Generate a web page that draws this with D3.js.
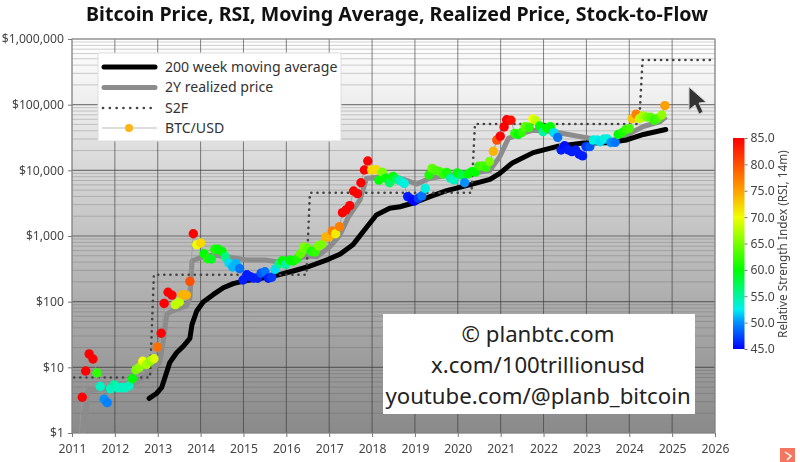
<!DOCTYPE html>
<html>
<head>
<meta charset="utf-8">
<script src="https://cdn.jsdelivr.net/npm/d3@7"></script>
<style>
  html, body { margin: 0; padding: 0; background: #fff; overflow: hidden; }
  svg { display: block; font-family: "Noto Sans", sans-serif; filter: blur(0.5px); }
</style>
</head>
<body>
<svg id="chart" width="800" height="462"></svg>
<script>
// BTC/USD monthly closes, decimal years
var btcDates = [2011.16,2011.24,2011.32,2011.40,2011.49,2011.58,2011.66,2011.75,2011.82,2011.90,2011.99,
  2012.07,2012.16,2012.24,2012.33,2012.41,2012.49,2012.57,2012.65,2012.74,2012.82,2012.91,2012.99,
  2013.08,2013.15,2013.24,2013.33,2013.41,2013.50,2013.58,2013.67,2013.75,2013.83,2013.91,2014.00,
  2014.08,2014.16,2014.25,2014.33,2014.41,2014.50,2014.58,2014.66,2014.75,2014.83,2014.91,2014.99,
  2015.08,2015.16,2015.24,2015.33,2015.41,2015.50,2015.58,2015.66,2015.74,2015.83,2015.91,2015.99,
  2016.08,2016.16,2016.25,2016.33,2016.41,2016.50,2016.58,2016.67,2016.75,2016.83,2016.92,2016.99,
  2017.07,2017.15,2017.24,2017.31,2017.39,2017.48,2017.57,2017.66,2017.74,2017.82,2017.90,2017.99,
  2018.09,2018.16,2018.24,2018.32,2018.41,2018.49,2018.57,2018.66,2018.75,2018.83,2018.92,2018.98,
  2019.08,2019.16,2019.24,2019.33,2019.40,2019.49,2019.58,2019.66,2019.74,2019.83,2019.91,2019.99,
  2020.08,2020.16,2020.24,2020.33,2020.41,2020.49,2020.58,2020.66,2020.74,2020.83,2020.91,2020.99,
  2021.08,2021.14,2021.24,2021.33,2021.41,2021.49,2021.57,2021.66,2021.75,2021.82,2021.91,2021.99,
  2022.07,2022.16,2022.24,2022.33,2022.41,2022.49,2022.58,2022.66,2022.75,2022.83,2022.91,2022.99,
  2023.08,2023.16,2023.25,2023.32,2023.41,2023.49,2023.57,2023.67,2023.74,2023.84,2023.92,2024.00,
  2024.07,2024.16,2024.24,2024.32,2024.41,2024.50,2024.58,2024.66,2024.76,2024.83];
var btcPrice = [0.8,3.5,8.8,16,13.4,8.2,5.1,3.26,2.9,4.7,5.4,
  4.9,4.9,4.9,5.2,6.7,9.2,10,12.4,11.1,12.5,13.5,20.4,
  33,94,139,126,90,99,128,126,204,1084,737,781,
  537,451,446,627,632,584,479,388,337,378,318,214,
  257,240,229,227,271,286,227,235,311,378,421,370,
  427,417,451,537,680,650,584,570,708,745,966,966,
  1190,1084,1387,2265,2489,2900,4840,4416,6460,10100,13870,10100,
  10230,7070,9340,7580,6460,8040,7330,6900,6340,3980,3650,3400,
  3750,4090,5320,8510,10700,10000,9500,8800,9300,7600,7160,9150,
  8500,6480,8800,9550,9400,11600,11700,11100,13650,19500,28900,33100,
  45800,58800,57800,36500,35100,37600,46200,45200,60500,57000,47300,38900,
  43700,46200,37500,31800,20400,23700,20400,19300,20400,17600,16600,23000,
  23000,28900,28900,27300,30000,30000,26500,26700,35100,37700,41600,43600,
  61000,71700,61000,67700,64500,64500,58300,61500,69500,96700];
var btcRsi = [85,85,85,85,85,62,54,50,49.5,54,55,
  54,54,54,54,60,65,66,70,67,66,69,78,
  85,85,85,85,68,68,74,74,80,85,70,72,
  60,61,59,61,60,60,56,52,51,51,49,46,
  46,46,46,46,48,49,46,47,52,56,60,55,
  60,60,61,64,65,64,61,62,65,65,74,74,
  77,71,77,85,85,85,85,85,85,85,85,72,
  72,60,65,60,57,60,57,54,53,46,45.5,45,
  47,49,53,61,64,63,63,62,61,55,54,60,
  58,50,60,60,60,62,63,62,65,74,80,85,
  85,85,84,62,60,62,64,62,70,68,60,55,
  60,60,52,49,46,45.5,46,46,46,46,46,47,
  48,53,53,52,53,53,50,49,60,61,62,63,
  73,77,68,67,65,64,62,63,66,75];

// 200 week moving average
var maDates = [2012.80,2012.97,2013.09,2013.18,2013.28,2013.44,2013.60,2013.75,2013.80,2013.91,2014.06,2014.30,2014.53,2014.76,
  2015.00,2015.39,2015.77,2016.16,2016.51,2016.98,2017.25,2017.56,2017.85,2018.10,2018.41,2018.65,2019.00,2019.35,2019.74,
  2020.32,2020.75,2020.98,2021.26,2021.76,2022.30,2022.93,2023.47,2023.94,2024.33,2024.85];
var maPrice = [3.37,4,4.9,7.4,11.8,16.7,21,27.6,45,72,99,129,163,188,
  206,224,252,293,340,442,527,745,1300,2090,2640,2790,3240,3980,4900,
  6100,7280,9000,12800,18600,23000,26000,26300,29000,35200,41900];

// 2Y realized price
var realizedDates = [2011.20,2011.27,2011.33,2011.38,2011.60,2012.10,2012.50,2012.82,2013.05,2013.13,2013.21,2013.33,2013.67,2013.75,2013.80,2013.99,
  2014.30,2014.76,2015.07,2015.50,2015.77,2016.08,2016.55,2016.71,2017.02,2017.25,2017.45,2017.72,2017.87,2018.10,2018.65,2018.88,
  2019.04,2019.35,2019.82,2020.36,2020.75,2020.98,2021.18,2021.37,2021.76,2022.23,2022.77,2023.24,2023.78,2024.09,2024.33,2024.72,2024.86];
var realizedPrice = [0.8,1.07,2.4,4.4,4.6,4.9,5.8,8.8,11.8,25,64,72,86,115,417,468,
  513,468,431,431,407,442,495,484,690,1035,1960,3550,7580,7760,7580,6760,
  6170,7580,8510,9000,10000,16200,30600,34300,40900,38700,33300,29600,29000,38700,46500,55000,66000];

// stock-to-flow steps
var s2fDates = [2011.05,2012.82,2012.91,2016.47,2016.55,2020.32,2020.40,2024.23,2024.31,2026];
var s2fPrice = [7,7,257,257,4560,4560,50700,50700,480000,480000];

var yearTicks = d3.range(2011, 2027);
var decadeTicks = [1, 10, 100, 1000, 10000, 100000, 1000000];
var rsiTicks = [45, 50, 55, 60, 65, 70, 75, 80, 85];
var rsiStops = [45, 50, 52.5, 60, 70, 75, 85];
var rsiColors = ["#0000ff", "#0090ff", "#00f0f0", "#00ff00", "#f0ff00", "#ffa000", "#ff0000"];
var bgOffsets = [0, 0.17, 0.335, 0.5, 0.665, 0.83, 1];
var bgColors = ["#ffffff", "#ededed", "#d6d6d6", "#c2c2c2", "#adadad", "#9b9b9b", "#8a8a8a"];
var legendLabels = ["200 week moving average", "2Y realized price", "S2F", "BTC/USD"];
var creditLines = ["© planbtc.com", "x.com/100trillionusd", "youtube.com/@planb_bitcoin"];

var left = 72, right = 715, top_ = 39, bottom = 433;
var x = d3.scaleLinear().domain([2011, 2026]).range([left, right]);
var y = d3.scaleLog().domain([1, 1000000]).range([bottom, top_]);
var rsiColor = d3.scaleLinear().domain(rsiStops).range(rsiColors);
var rsiY = d3.scaleLinear().domain([45, 85]).range([349, 138]);

var svg = d3.select("#chart");
var defs = svg.append("defs");

// plot background fades from white down to grey
var bg = defs.append("linearGradient").attr("id", "bg").attr("x1", 0).attr("x2", 0).attr("y1", 0).attr("y2", 1);
bgOffsets.forEach((o, i) => bg.append("stop").attr("offset", o).attr("stop-color", bgColors[i]));

var cbar = defs.append("linearGradient").attr("id", "cbar").attr("x1", 0).attr("x2", 0).attr("y1", 1).attr("y2", 0);
rsiStops.forEach((s, i) => cbar.append("stop").attr("offset", (s - 45) / 40).attr("stop-color", rsiColors[i]));

defs.append("clipPath").attr("id", "plot").append("rect")
  .attr("x", left).attr("y", top_).attr("width", right - left).attr("height", bottom - top_);

svg.append("rect").attr("x", left).attr("y", top_).attr("width", right - left).attr("height", bottom - top_)
  .attr("fill", "url(#bg)");

// grid
var minorTicks = y.ticks().filter(d => decadeTicks.indexOf(d) < 0);
svg.append("g").selectAll("line").data(minorTicks).join("line")
  .attr("x1", left).attr("x2", right).attr("y1", d => y(d)).attr("y2", d => y(d))
  .attr("stroke", "#555").attr("stroke-opacity", 0.28).attr("stroke-width", 1);
svg.append("g").selectAll("line").data(decadeTicks).join("line")
  .attr("x1", left).attr("x2", right).attr("y1", d => y(d)).attr("y2", d => y(d))
  .attr("stroke", "#333").attr("stroke-opacity", 0.6).attr("stroke-width", 1.2);
svg.append("g").selectAll("line").data(yearTicks).join("line")
  .attr("x1", d => x(d)).attr("x2", d => x(d)).attr("y1", top_).attr("y2", bottom)
  .attr("stroke", "#333").attr("stroke-opacity", 0.6).attr("stroke-width", 1);
svg.append("rect").attr("x", left).attr("y", top_).attr("width", right - left).attr("height", bottom - top_)
  .attr("fill", "none").attr("stroke", "#999").attr("stroke-width", 1);

// axes
var xAxis = d3.axisBottom(x).tickValues(yearTicks).tickFormat(d3.format("d")).tickSize(4).tickPadding(7);
var yAxis = d3.axisLeft(y).tickValues(decadeTicks).tickFormat(d => "$" + d3.format(",")(d)).tickSize(4).tickPadding(4);
var gx = svg.append("g").attr("transform", "translate(0," + bottom + ")").call(xAxis);
var gy = svg.append("g").attr("transform", "translate(" + left + ",0)").call(yAxis);
[gx, gy].forEach(g => {
  g.select(".domain").remove();
  g.selectAll("line").attr("stroke", "#777");
  g.selectAll("text").attr("fill", "#444").style("font-size", "12.2px").style("font-family", "'Noto Sans', sans-serif");
});

// series
var line = d3.line().x(d => x(d[0])).y(d => y(d[1]));
var plot = svg.append("g").attr("clip-path", "url(#plot)");

plot.append("path").attr("d", line(d3.zip(realizedDates, realizedPrice)))
  .attr("fill", "none").attr("stroke", "#8c8c8c").attr("stroke-width", 5).attr("stroke-linejoin", "round");
plot.append("path").attr("d", line(d3.zip(maDates, maPrice)))
  .attr("fill", "none").attr("stroke", "#000").attr("stroke-width", 5).attr("stroke-linecap", "round").attr("stroke-linejoin", "round");
plot.append("path").attr("d", line(d3.zip(s2fDates, s2fPrice)))
  .attr("fill", "none").attr("stroke", "#444").attr("stroke-width", 2.6).attr("stroke-linecap", "round").attr("stroke-dasharray", "0.1 6");
plot.append("path").attr("d", line(d3.zip(btcDates, btcPrice)))
  .attr("fill", "none").attr("stroke", "#999").attr("stroke-width", 0.8);
plot.append("g").selectAll("circle").data(d3.zip(btcDates, btcPrice, btcRsi)).join("circle")
  .attr("cx", d => x(d[0])).attr("cy", d => y(d[1])).attr("r", 4.7)
  .attr("fill", d => rsiColor(d[2]));

// legend
var legend = svg.append("g");
legend.append("rect").attr("x", 98).attr("y", 53).attr("width", 243).attr("height", 88)
  .attr("fill", "#fff").attr("stroke", "#ddd");
var rows = [67, 87.5, 108, 128];
legend.selectAll("text").data(legendLabels).join("text")
  .attr("x", 165).attr("y", (d, i) => rows[i]).attr("dy", "0.35em")
  .attr("fill", "#333").style("font-size", "14.1px").text(d => d);
legend.append("line").attr("x1", 104).attr("x2", 155).attr("y1", rows[0]).attr("y2", rows[0])
  .attr("stroke", "#000").attr("stroke-width", 5).attr("stroke-linecap", "round");
legend.append("line").attr("x1", 104).attr("x2", 155).attr("y1", rows[1]).attr("y2", rows[1])
  .attr("stroke", "#8c8c8c").attr("stroke-width", 5).attr("stroke-linecap", "round");
legend.append("line").attr("x1", 103).attr("x2", 152).attr("y1", rows[2]).attr("y2", rows[2])
  .attr("stroke", "#444").attr("stroke-width", 2.6).attr("stroke-linecap", "round").attr("stroke-dasharray", "0.1 6.7");
legend.append("line").attr("x1", 102).attr("x2", 157).attr("y1", rows[3]).attr("y2", rows[3])
  .attr("stroke", "#bbb").attr("stroke-width", 1);
legend.append("circle").attr("cx", 129).attr("cy", rows[3]).attr("r", 4).attr("fill", "#ffb414");

// credit box
svg.append("rect").attr("x", 383).attr("y", 314).attr("width", 312).attr("height", 100).attr("fill", "#fff");
svg.append("g").selectAll("text").data(creditLines).join("text")
  .attr("x", 538).attr("y", (d, i) => [334, 365, 396][i]).attr("dy", "0.35em").attr("text-anchor", "middle")
  .attr("fill", "#222").style("font-size", "22.2px").text(d => d);

// colour bar
svg.append("rect").attr("x", 733).attr("y", rsiY(85)).attr("width", 11.5).attr("height", rsiY(45) - rsiY(85))
  .attr("fill", "url(#cbar)");
var gc = svg.append("g").attr("transform", "translate(744.5,0)")
  .call(d3.axisRight(rsiY).tickValues(rsiTicks).tickFormat(d3.format(".1f")).tickSize(3).tickPadding(3));
gc.select(".domain").remove();
gc.selectAll("line").attr("stroke", "#777");
gc.selectAll("text").attr("fill", "#444").style("font-size", "12.2px").style("font-family", "'Noto Sans', sans-serif");
svg.append("text").attr("transform", "translate(787,244) rotate(-90)").attr("text-anchor", "middle")
  .attr("fill", "#444").style("font-size", "11.8px").text("Relative Strength Index (RSI, 14m)");

// title
svg.append("text").attr("x", 397).attr("y", 20.5).attr("text-anchor", "middle")
  .attr("fill", "#111").style("font-size", "19.6px").style("font-weight", "700")
  .text("Bitcoin Price, RSI, Moving Average, Realized Price, Stock-to-Flow");

// mouse pointer and player icon caught in the screenshot
svg.append("path").attr("d", "M689 87 L689 110 L695 105 L699 114 L703 112 L699 103 L706 102 Z")
  .attr("fill", "#333").attr("stroke", "#ccc").attr("stroke-width", 1);
svg.append("rect").attr("x", 780).attr("y", 448).attr("width", 15).attr("height", 14).attr("fill", "#f47560");
svg.append("path").attr("d", "M785 452 L791 456 L787 460").attr("fill", "none").attr("stroke", "#fff").attr("stroke-width", 1.5);
</script>
</body>
</html>
